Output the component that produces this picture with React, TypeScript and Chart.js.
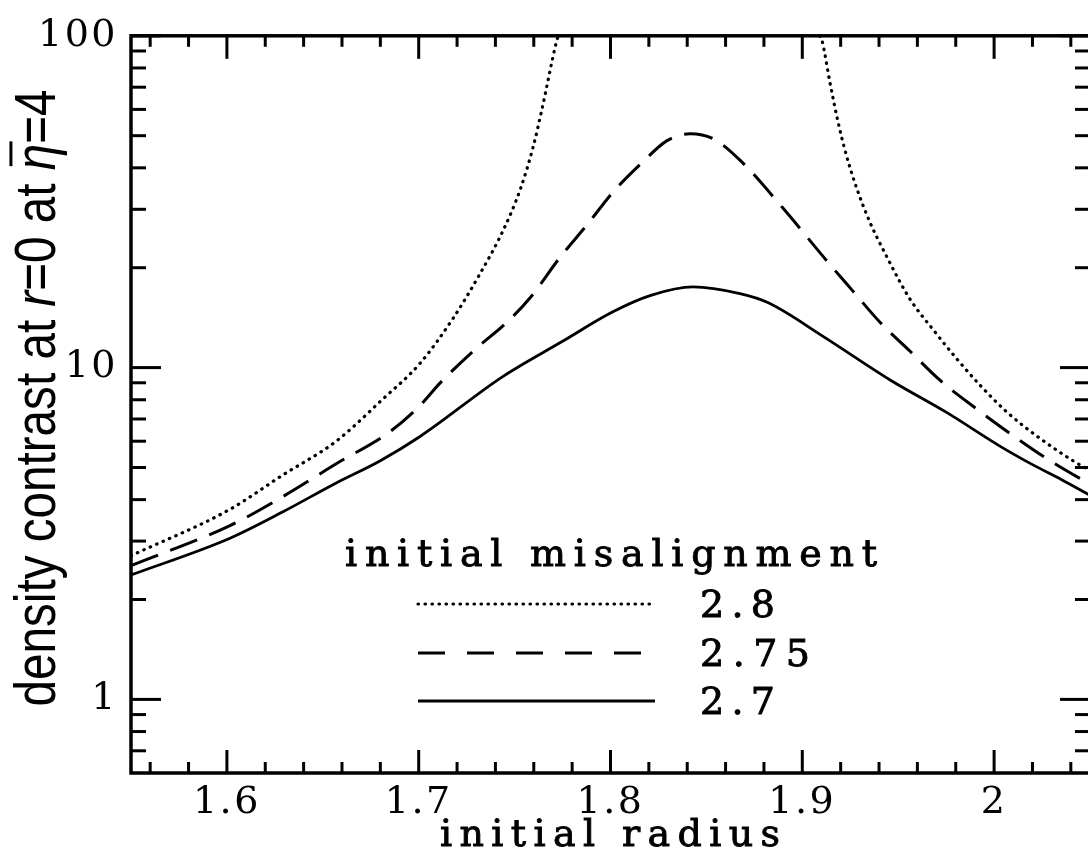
import React, { useEffect, useRef } from "react";
import { Chart, registerables } from "chart.js";

Chart.register(...registerables);

// ---- data ----
const seriesLabels = ["2.8", "2.75", "2.7"];

const dottedX = [1.55, 1.6016, 1.629, 1.657, 1.681, 1.7007, 1.718, 1.732, 1.744, 1.753, 1.7596, 1.764, 1.772, 1.7728, 1.84, 1.9092, 1.9103, 1.9144, 1.9191, 1.9249, 1.9337, 1.9442, 1.9561, 1.9692, 1.9807, 1.9926, 2.0067, 2.0239, 2.0411, 2.05];
const dottedY = [2.71, 3.74, 4.74, 6.0, 8.01, 10.3, 14.1, 19.2, 25.9, 34.5, 46.1, 59.1, 96.7, 100, null, 100, 96.7, 72.4, 53.5, 40.0, 28.8, 21.5, 16.1, 12.8, 10.6, 8.86, 7.34, 6.12, 5.24, 4.9];

const dashedX = [1.55, 1.6016, 1.629, 1.657, 1.685, 1.7007, 1.7111, 1.7283, 1.746, 1.758, 1.7737, 1.7877, 1.8013, 1.8169, 1.8295, 1.8415, 1.8534, 1.8675, 1.89, 1.9118, 1.9264, 1.9405, 1.9562, 1.9718, 1.9911, 2.0083, 2.0276, 2.0463, 2.05];
const dashedY = [2.53, 3.34, 4.08, 5.13, 6.41, 7.69, 8.98, 11.2, 13.7, 16.2, 21.5, 26.9, 33.8, 41.7, 48.3, 50.7, 49.0, 42.2, 30.2, 21.3, 17.0, 13.7, 11.2, 9.16, 7.49, 6.33, 5.31, 4.58, 4.46];

const solidX = [1.55, 1.6016, 1.629, 1.657, 1.68, 1.7007, 1.744, 1.775, 1.801, 1.821, 1.843, 1.8675, 1.882, 1.911, 1.946, 1.975, 2.003, 2.02, 2.035, 2.05];
const solidY = [2.37, 3.06, 3.67, 4.49, 5.24, 6.2, 9.41, 12.0, 14.7, 16.5, 17.5, 16.7, 15.7, 12.4, 9.16, 7.34, 5.8, 5.1, 4.6, 4.12];

const xTickLabels = [1.6, 1.7, 1.8, 1.9, 2];
const xMinorTicks = [1.56, 1.58, 1.62, 1.64, 1.66, 1.68, 1.72, 1.74, 1.76, 1.78, 1.82, 1.84, 1.86, 1.88, 1.92, 1.94, 1.96, 1.98, 2.02, 2.04];
const yTickLabels = [1, 10, 100];
const yMinorTicks = [0.7, 0.8, 0.9, 2, 3, 4, 5, 6, 7, 8, 9, 20, 30, 40, 50, 60, 70, 80, 90];

const xRange = [1.55, 2.05];
const yRange = [0.637, 100];

const legendTitle = "initial misalignment";
const xTitle = "initial radius";

const toPoints = (xs: number[], ys: (number | null)[]) => xs.map((x, i) => ({ x, y: ys[i] }));

const SERIF = "'DejaVu Serif', serif";
const TICK_SIZE = 38;
const TEXT_SIZE = 38;

const framePlugin = {
  id: "frameTicks",
  beforeDraw(chart: any) {
    (chart.ctx as any).letterSpacing = "2.5px";
  },
  afterDraw(chart: any) {
    const { ctx, chartArea, scales } = chart;
    const { left, right, top, bottom } = chartArea;
    const xs = scales.x;
    const ys = scales.y;
    ctx.save();
    ctx.strokeStyle = "#000";
    ctx.lineCap = "butt";
    ctx.lineWidth = 3;
    const seg = (x1: number, y1: number, x2: number, y2: number) => {
      ctx.beginPath();
      ctx.moveTo(x1, y1);
      ctx.lineTo(x2, y2);
      ctx.stroke();
    };
    xTickLabels.forEach((v) => {
      const p = xs.getPixelForValue(v);
      seg(p, bottom, p, bottom - 23);
      seg(p, top, p, top + 23);
    });
    xMinorTicks.forEach((v) => {
      const p = xs.getPixelForValue(v);
      seg(p, bottom, p, bottom - 11);
      seg(p, top, p, top + 11);
    });
    yTickLabels.forEach((v) => {
      const p = ys.getPixelForValue(v);
      seg(left, p, left + 30, p);
      seg(right, p, right - 30, p);
    });
    yMinorTicks.forEach((v) => {
      const p = ys.getPixelForValue(v);
      seg(left, p, left + 15, p);
      seg(right, p, right - 15, p);
    });
    ctx.lineWidth = 3.5;
    ctx.strokeRect(left, top, right - left, bottom - top);

    // spaced serif text fitted to a target width
    ctx.fillStyle = "#000";
    ctx.textAlign = "left";
    ctx.textBaseline = "alphabetic";
    const spaced = (t: string, x: number, y: number, width: number) => {
      ctx.font = `${TEXT_SIZE}px ${SERIF}`;
      (ctx as any).letterSpacing = "0px";
      const w = ctx.measureText(t).width;
      const sp = Math.max(0, (width - w) / (t.length - 1));
      (ctx as any).letterSpacing = `${sp}px`;
      ctx.fillText(t, x, y);
      ctx.lineWidth = 0.9;
      ctx.strokeText(t, x, y);
    };

    spaced(xTitle, 440, 846, 340);

    // legend
    spaced(legendTitle, 345, 566, 532);
    const rows = [604, 653, 701];
    const labelWidths = [75, 110, 75];
    const legendDash: number[][] = [[0.5, 6.5], [27, 22], []];
    chart.data.datasets.forEach((ds: any, i: number) => {
      ctx.save();
      ctx.lineWidth = ds.borderWidth;
      ctx.lineCap = ds.borderCapStyle || "butt";
      ctx.setLineDash(legendDash[i]);
      seg(418, rows[i], 655, rows[i]);
      ctx.restore();
      spaced(ds.label, 700, rows[i] + 13, labelWidths[i]);
    });

    // y title
    (ctx as any).letterSpacing = "0px";
    const size = 58;
    const normal = `${size}px 'Liberation Sans', sans-serif`;
    const italic = `italic ${size}px 'Liberation Sans', sans-serif`;
    const parts: [string, string, boolean][] = [
      ["density contrast at ", normal, false],
      ["r", italic, false],
      ["=0 at ", normal, false],
      ["\u03B7", italic, true],
      ["=4", normal, false],
    ];
    let total = 0;
    const widths = parts.map(([t, f]) => {
      ctx.font = f;
      const w = ctx.measureText(t).width;
      total += w;
      return w;
    });
    const targetLen = 617;
    const sx = targetLen / total;
    ctx.translate(55, 398 + targetLen / 2);
    ctx.rotate(-Math.PI / 2);
    ctx.scale(sx, 1);
    let cx = 0;
    parts.forEach(([t, f, bar], i) => {
      ctx.font = f;
      ctx.fillText(t, cx, 0);
      if (bar) {
        ctx.lineWidth = 3;
        seg(cx + 5, -size * 0.76, cx + widths[i] + 3, -size * 0.76);
      }
      cx += widths[i];
    });
    ctx.restore();
  },
};

export default function App() {
  const ref = useRef<HTMLCanvasElement | null>(null);
  useEffect(() => {
    if (!ref.current) return;
    const chart = new Chart(ref.current, {
      type: "line",
      data: {
        datasets: [
          {
            label: seriesLabels[0],
            data: toPoints(dottedX, dottedY),
            borderColor: "#000",
            borderWidth: 3.2,
            borderDash: [0.5, 6.5],
            borderCapStyle: "round",
            pointRadius: 0,
            cubicInterpolationMode: "monotone",
            spanGaps: false,
          },
          {
            label: seriesLabels[1],
            data: toPoints(dashedX, dashedY),
            borderColor: "#000",
            borderWidth: 3,
            borderDash: [29, 13],
            pointRadius: 0,
            cubicInterpolationMode: "monotone",
          },
          {
            label: seriesLabels[2],
            data: toPoints(solidX, solidY),
            borderColor: "#000",
            borderWidth: 2.8,
            pointRadius: 0,
            cubicInterpolationMode: "monotone",
          },
        ] as any,
      },
      options: {
        animation: false,
        responsive: false,
        devicePixelRatio: 1,
        layout: { padding: { top: 22, right: 10, left: 0, bottom: 0 } },
        plugins: { legend: { display: false }, tooltip: { enabled: false } },
        scales: {
          x: {
            type: "linear",
            min: xRange[0],
            max: xRange[1],
            grid: { display: false, drawTicks: false },
            border: { display: false },
            afterBuildTicks: (s: any) => {
              s.ticks = xTickLabels.map((v) => ({ value: v }));
            },
            afterFit: (s: any) => {
              s.height = 81;
            },
            ticks: {
              autoSkip: false,
              maxRotation: 0,
              padding: 7,
              color: "#000",
              font: { family: SERIF, size: TICK_SIZE },
              callback: (v: any) => String(v),
            },
          },
          y: {
            type: "logarithmic",
            min: yRange[0],
            max: yRange[1],
            grid: { display: false, drawTicks: false },
            border: { display: false },
            afterBuildTicks: (s: any) => {
              s.ticks = yTickLabels.map((v) => ({ value: v }));
            },
            afterFit: (s: any) => {
              s.width = 131;
            },
            ticks: {
              autoSkip: false,
              padding: 13,
              color: "#000",
              font: { family: SERIF, size: TICK_SIZE },
              callback: (v: any) => String(v),
            },
          },
        },
      } as any,
      plugins: [framePlugin],
    });
    return () => chart.destroy();
  }, []);
  return (
    <div style={{ position: "absolute", left: 0, top: 0, width: 1088, height: 854, overflow: "hidden", background: "#fff" }}>
      <canvas ref={ref} width={1100} height={854} style={{ width: 1100, height: 854, display: "block" }} />
    </div>
  );
}
